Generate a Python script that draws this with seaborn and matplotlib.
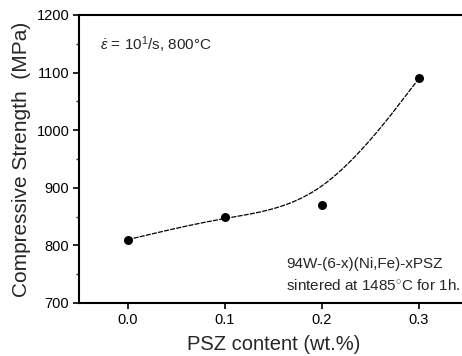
import numpy as np
import pandas as pd
import matplotlib
matplotlib.use("Agg")
import matplotlib.pyplot as plt
from matplotlib.ticker import MultipleLocator
import seaborn as sns

# ---- data ----
psz_content = [0.0, 0.1, 0.2, 0.3]          # wt.%
strength = [810, 850, 870, 1090]            # MPa
x_ticks = [0.0, 0.1, 0.2, 0.3]
x_tick_labels = ["0.0", "0.1", "0.2", "0.3"]
y_ticks = [700, 800, 900, 1000, 1100, 1200]
y_tick_labels = ["700", "800", "900", "1000", "1100", "1200"]

sns.set_style("ticks")
plt.rcParams['font.family'] = ['Liberation Sans', 'DejaVu Sans']
plt.rcParams['mathtext.fontset'] = 'custom'
plt.rcParams['mathtext.rm'] = 'Liberation Sans'
plt.rcParams['mathtext.it'] = 'Liberation Sans:italic'


def bspline_curve(xs, ys, n=60):
    """Uniform cubic B-spline with the data as control points (ends tripled)."""
    px = np.r_[[xs[0]] * 2, xs, [xs[-1]] * 2]
    py = np.r_[[ys[0]] * 2, ys, [ys[-1]] * 2]
    t = np.linspace(0, 1, n)
    b0 = (1 - t) ** 3 / 6
    b1 = (3 * t ** 3 - 6 * t ** 2 + 4) / 6
    b2 = (-3 * t ** 3 + 3 * t ** 2 + 3 * t + 1) / 6
    b3 = t ** 3 / 6
    cx, cy = [], []
    for i in range(len(px) - 3):
        cx.append(b0 * px[i] + b1 * px[i + 1] + b2 * px[i + 2] + b3 * px[i + 3])
        cy.append(b0 * py[i] + b1 * py[i + 1] + b2 * py[i + 2] + b3 * py[i + 3])
    return np.concatenate(cx), np.concatenate(cy)


cx, cy = bspline_curve(np.array(psz_content, float), np.array(strength, float))
curve = pd.DataFrame({"x": cx, "y": cy})
pts = pd.DataFrame({"x": psz_content, "y": strength})

W, H = 462, 356
fig = plt.figure(figsize=(W / 100, H / 100), dpi=100)
left, right, top, bottom = 79, 467.6, 15, 303
ax = fig.add_axes([left / W, (H - bottom) / H, (right - left) / W, (bottom - top) / H])

sns.lineplot(data=curve, x="x", y="y", ax=ax, sort=False, color="black",
             linewidth=0.9, linestyle=(0, (4, 1.0)), estimator=None)
sns.scatterplot(data=pts, x="x", y="y", ax=ax, color="black", s=42,
                edgecolor="black", linewidth=0, zorder=5)

ax.set_xlim(-0.05, 0.35)
ax.set_ylim(700, 1200)
ax.set_xticks(x_ticks)
ax.set_xticklabels(x_tick_labels)
ax.set_yticks(y_ticks)
ax.set_yticklabels(y_tick_labels)
ax.yaxis.set_minor_locator(MultipleLocator(50))
ax.tick_params(axis="both", which="major", direction="out", length=4, width=1.2,
               labelsize=10.5, color="black", labelcolor="black", pad=3)
ax.tick_params(axis="y", which="minor", direction="out", length=2.5, width=1.0)
for s in ["left", "bottom", "top", "right"]:
    ax.spines[s].set_visible(True)
    ax.spines[s].set_linewidth(1.5)
    ax.spines[s].set_color("black")

ax.set_xlabel("PSZ content (wt.%)", fontsize=14.5, labelpad=6)
ax.set_ylabel("Compressive Strength  (MPa)", fontsize=15, labelpad=4)


def px_text(x, y, s, **kw):
    # place text by reference pixel position (from top-left)
    fig.text(x / W, 1 - y / H, s, va="center", ha="left", **kw)


px_text(100, 45, r"$\dot{\varepsilon}$ = 10$^{1}$/s, 800°C", fontsize=11)
px_text(286, 264, "94W-(6-x)(Ni,Fe)-xPSZ", fontsize=11)
px_text(286, 285, "sintered at 1485$^{\\circ}$C for 1h.", fontsize=11)

fig.savefig("out.png", dpi=100)
